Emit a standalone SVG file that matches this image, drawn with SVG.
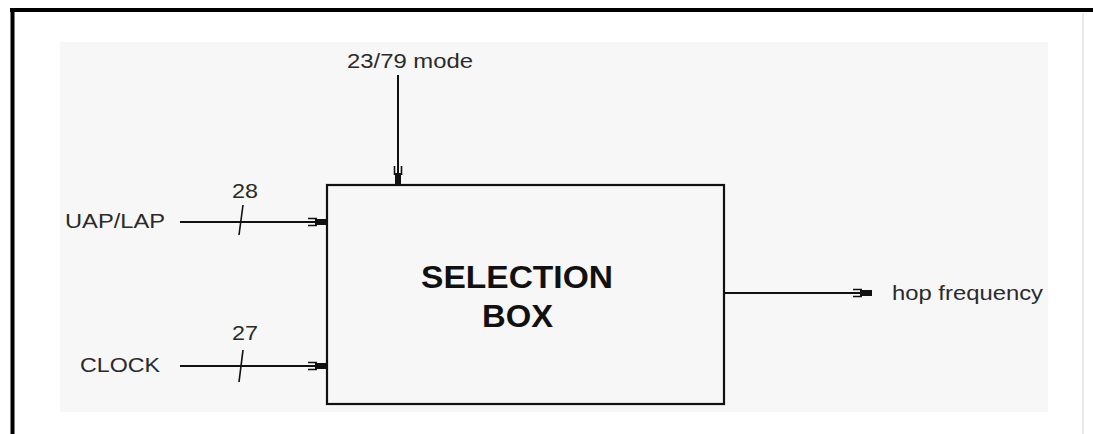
<svg xmlns="http://www.w3.org/2000/svg" width="1093" height="434" viewBox="0 0 1093 434">
  <style>
    .lbl { font-family: "Liberation Sans", Arial, sans-serif; font-size: 21px; fill: #2a2a2a; }
    .title { font-family: "Liberation Sans", Arial, sans-serif; font-size: 31px; font-weight: bold; fill: #111; text-anchor: middle; }
    .wire { stroke: #111; stroke-width: 2; fill: none; }
    .bus { stroke: #111; stroke-width: 1.6; fill: none; }
  </style>
  <defs>
    <marker id="arr" markerUnits="userSpaceOnUse" viewBox="-20 -8 22 16" refX="0" refY="0" markerWidth="22" markerHeight="16" orient="auto">
      <rect x="-12" y="-3" width="12" height="6" fill="#111"/>
      <path d="M-19,-3.5 H-10 M-19,3.5 H-10" stroke="#111" stroke-width="1.6" fill="none"/>
    </marker>
  </defs>

  <rect width="1093" height="434" fill="#ffffff"/>
  <!-- frame -->
  <line x1="10" y1="10" x2="1093" y2="10" stroke="#000" stroke-width="4"/>
  <line x1="12.5" y1="8" x2="12.5" y2="434" stroke="#000" stroke-width="4"/>
  <line x1="1083" y1="13" x2="1083" y2="434" stroke="#e2e2e2" stroke-width="1.5"/>
  <!-- background panel -->
  <rect x="60" y="42" width="988" height="370" fill="#f7f7f7"/>

  <g id="connectors">
    <line class="wire" x1="398" y1="75" x2="398" y2="185" marker-end="url(#arr)"/>
    <line class="wire" x1="180" y1="222" x2="327" y2="222" marker-end="url(#arr)"/>
    <line class="wire" x1="180" y1="366" x2="327" y2="366" marker-end="url(#arr)"/>
    <line class="wire" x1="724" y1="293" x2="872" y2="293" marker-end="url(#arr)"/>
    <path class="bus" d="M243,205 L239,235"/>
    <path class="bus" d="M243,350 L239,382"/>
  </g>

  <g id="selection-box">
    <rect x="327" y="185" width="397" height="219" fill="none" stroke="#111" stroke-width="2.2"/>
    <text class="title" x="517" y="288" textLength="192" lengthAdjust="spacingAndGlyphs">SELECTION</text>
    <text class="title" x="517.5" y="327" textLength="71" lengthAdjust="spacingAndGlyphs">BOX</text>
  </g>

  <g id="mode-label">
    <text class="lbl" x="347" y="68" textLength="126" lengthAdjust="spacingAndGlyphs">23/79 mode</text>
  </g>
  <g id="uaplap-label">
    <text class="lbl" x="65" y="228" textLength="100" lengthAdjust="spacingAndGlyphs">UAP/LAP</text>
    <text class="lbl" x="232" y="198" textLength="26" lengthAdjust="spacingAndGlyphs">28</text>
  </g>
  <g id="clock-label">
    <text class="lbl" x="80" y="372" textLength="80" lengthAdjust="spacingAndGlyphs">CLOCK</text>
    <text class="lbl" x="232" y="340" textLength="26" lengthAdjust="spacingAndGlyphs">27</text>
  </g>
  <g id="hop-label">
    <text class="lbl" x="892" y="300" textLength="151" lengthAdjust="spacingAndGlyphs">hop frequency</text>
  </g>
</svg>
